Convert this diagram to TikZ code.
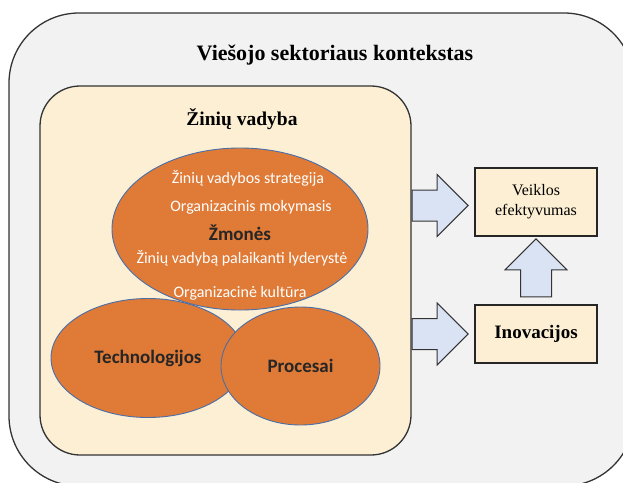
\documentclass[tikz,border=0pt]{standalone}
\usepackage{fontspec}
\setmainfont{Liberation Serif}
\newfontfamily\calibri{Carlito}
\usetikzlibrary{positioning, calc, shapes.geometric, shapes.arrows}
\definecolor{outerbg}{HTML}{F2F2F2}
\definecolor{cream}{HTML}{FCEFD3}
\definecolor{orng}{HTML}{DF7A37}
\definecolor{blueline}{HTML}{4A6FA8}
\definecolor{arrowblue}{HTML}{DAE3F3}
\definecolor{darktext}{HTML}{262626}

\begin{document}
\begin{tikzpicture}[x=1pt, y=-1pt,
    bubble/.style={ellipse, draw=blueline, fill=orng, line width=0.9pt, inner sep=0pt},
    bubbletext/.style={text=darktext, font=\calibri\bfseries\fontsize{19}{22}\selectfont},
    inlabel/.style={text=white, font=\calibri\fontsize{16}{19}\selectfont},
    resultbox/.style={draw=black!85, fill=cream, line width=1.3pt, inner sep=0pt,
        minimum width=122pt, align=center},
    fatarrow/.style={single arrow, draw=black!80, fill=arrowblue, line width=1pt,
        inner xsep=0pt, inner ysep=15pt, single arrow head extend=15.5pt,
        single arrow tip angle=90}
]
    \clip (0,0) rectangle (623,482);
    \draw[fill=outerbg, draw=black!80, line width=1.3pt, rounded corners=70pt]
        (9,13) rectangle (634,486);
    \node[font=\bfseries\fontsize{22}{25}\selectfont] (context) at (335,55) {Viešojo sektoriaus kontekstas};

    \node[draw=black!80, fill=cream, line width=1.3pt, rounded corners=40pt,
        minimum width=371pt, minimum height=369pt] (kv) at (225.5,270.5) {};
    \node[font=\bfseries\fontsize{19.5}{22}\selectfont] (kvtitle) at (242,119) {Žinių vadyba};

    \node[bubble, minimum width=256pt, minimum height=162pt] (zmones) at (240,229) {};
    \node[inlabel] (strategija) at (248,178) {Žinių vadybos strategija};
    \node[inlabel] (mokymasis) at (251,207) {Organizacinis mokymasis};
    \node[bubbletext] (zm) at (240,233) {Žmonės};
    \node[inlabel] (lyderyste) at (242,258) {Žinių vadybą palaikanti lyderystė};
    \node[inlabel] (kultura) at (240,293) {Organizacinė kultūra};

    \node[bubble, minimum width=194pt, minimum height=119pt] (tech) at (148,358) {};
    \node[bubbletext] at (tech) {Technologijos};
    \node[bubble, minimum width=159pt, minimum height=118pt] (proc) at (300.5,366) {};
    \node[bubbletext] at (proc) {Procesai};

    \node[resultbox, minimum height=68pt, font=\fontsize{16}{20}\selectfont] (veikla) at (536,202) {Veiklos\\efektyvumas};
    \node[resultbox, minimum height=58pt, font=\bfseries\fontsize{19}{22}\selectfont] (inov) at (536,334) {Inovacijos};

    \node[fatarrow, minimum height=56pt, anchor=tail] (a1) at ($(kv.east |- veikla.west)+(0,3.5)$) {};
    \node[fatarrow, minimum height=56pt, anchor=tail] (a2) at (kv.east |- inov.west) {};
    \node[fatarrow, minimum height=58pt, rotate=90, anchor=tail] (a3) at ($(inov.north)+(0,-7)$) {};
\end{tikzpicture}
\end{document}
